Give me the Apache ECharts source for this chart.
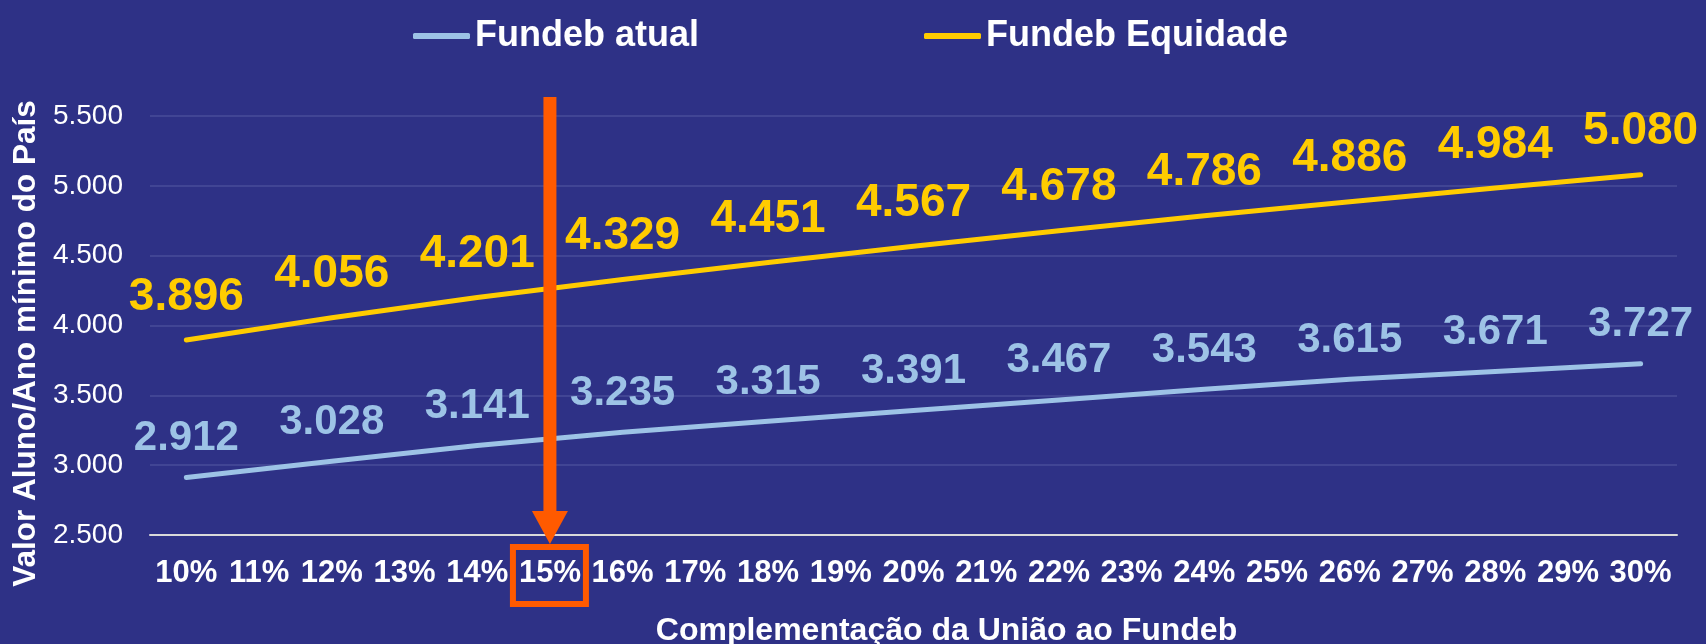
<!DOCTYPE html>
<html>
<head>
<meta charset="utf-8">
<script src="https://cdn.jsdelivr.net/npm/echarts@6/dist/echarts.min.js"></script>
<style>
html,body{margin:0;padding:0;background:#2E3186;}
#chart{width:1706px;height:644px;}
</style>
</head>
<body>
<div id="chart"></div>
<script>
// categorias: complementação da União
var categorias = ['10%','11%','12%','13%','14%','15%','16%','17%','18%','19%','20%',
                  '21%','22%','23%','24%','25%','26%','27%','28%','29%','30%'];
// valores só nos pontos rotulados (pares)
var fundebAtual = [2912,null,3028,null,3141,null,3235,null,3315,null,3391,
                   null,3467,null,3543,null,3615,null,3671,null,3727];
var fundebEquidade = [3896,null,4056,null,4201,null,4329,null,4451,null,4567,
                      null,4678,null,4786,null,4886,null,4984,null,5080];
var destaque = '15%';

var fonte = 'Liberation Sans, Arial, sans-serif';

function fmt(v){
    return (v/1000).toFixed(3);
}

var myChart = echarts.init(document.getElementById('chart'));
var option = {
    backgroundColor: '#2E3186',
    textStyle: { fontFamily: fonte },
    legend: {
        left: 408,
        top: 13,
        itemGap: 225,
        itemWidth: 57,
        itemHeight: 6,
        icon: 'roundRect',
        textStyle: { color: '#fff', fontSize: 36, fontWeight: 'bold', fontFamily: fonte },
        data: ['Fundeb atual', 'Fundeb Equidade']
    },
    grid: { left: 150, right: 29, top: 116, bottom: 109, outerBoundsMode: 'none', containLabel: false },
    xAxis: {
        type: 'category',
        data: categorias,
        boundaryGap: true,
        name: 'Complementação da União ao Fundeb',
        nameLocation: 'middle',
        nameGap: 80,
        nameTextStyle: { color: '#fff', fontSize: 32, fontWeight: 'bold', fontFamily: fonte, padding: [0,0,0,66] },
        axisLine: { lineStyle: { color: '#D9D9D9', width: 2 } },
        axisTick: { show: false },
        axisLabel: { interval: 0, margin: 23, color: '#fff', fontSize: 31, fontWeight: 'bold', fontFamily: fonte }
    },
    yAxis: {
        type: 'value',
        min: 2500,
        max: 5500,
        interval: 500,
        name: 'Valor Aluno/Ano mínimo do País',
        nameLocation: 'middle',
        nameGap: 105,
        nameTextStyle: { color: '#fff', fontSize: 31.5, fontWeight: 'bold', fontFamily: fonte, padding: [0,36,0,0] },
        axisLine: { show: false },
        axisTick: { show: false },
        splitLine: { lineStyle: { color: '#484C99', width: 1.5 } },
        axisLabel: { margin: 27, color: '#fff', fontSize: 28, fontFamily: fonte, formatter: fmt }
    },
    series: [
        {
            name: 'Fundeb atual',
            type: 'line',
            data: fundebAtual,
            connectNulls: true,
            symbol: 'circle',
            symbolSize: 0.1,
            showSymbol: true,
            color: '#9DC3E6',
            lineStyle: { color: '#9DC3E6', width: 5, cap: 'round' },
            label: {
                show: true, position: 'top', distance: 18,
                color: '#9DC3E6', fontSize: 42, fontWeight: 'bold', fontFamily: fonte,
                formatter: function(p){ return p.value == null ? '' : fmt(p.value); }
            }
        },
        {
            name: 'Fundeb Equidade',
            type: 'line',
            data: fundebEquidade,
            connectNulls: true,
            symbol: 'circle',
            symbolSize: 0.1,
            showSymbol: true,
            color: '#FFCC00',
            lineStyle: { color: '#FFCC00', width: 5, cap: 'round' },
            label: {
                show: true, position: 'top', distance: 20,
                color: '#FFCC00', fontSize: 46, fontWeight: 'bold', fontFamily: fonte,
                formatter: function(p){ return p.value == null ? '' : fmt(p.value); }
            }
        }
    ]
};
myChart.setOption(option);

// seta laranja apontando para 15%
var ax = myChart.convertToPixel({ xAxisIndex: 0 }, destaque);
var ay = myChart.convertToPixel({ yAxisIndex: 0 }, 2500);
var laranja = '#FF5A00';
myChart.setOption({
    graphic: [
        { type: 'rect', z: 100, shape: { x: ax - 6.5, y: 97, width: 13, height: ay - 24 - 97 }, style: { fill: laranja } },
        { type: 'polygon', z: 100, shape: { points: [[ax - 18, ay - 24], [ax + 18, ay - 24], [ax, ay + 9]] }, style: { fill: laranja } },
        { type: 'rect', z: 100, shape: { x: ax - 37, y: ay + 12, width: 73, height: 57 }, style: { fill: 'none', stroke: laranja, lineWidth: 6 } }
    ]
});
</script>
</body>
</html>
